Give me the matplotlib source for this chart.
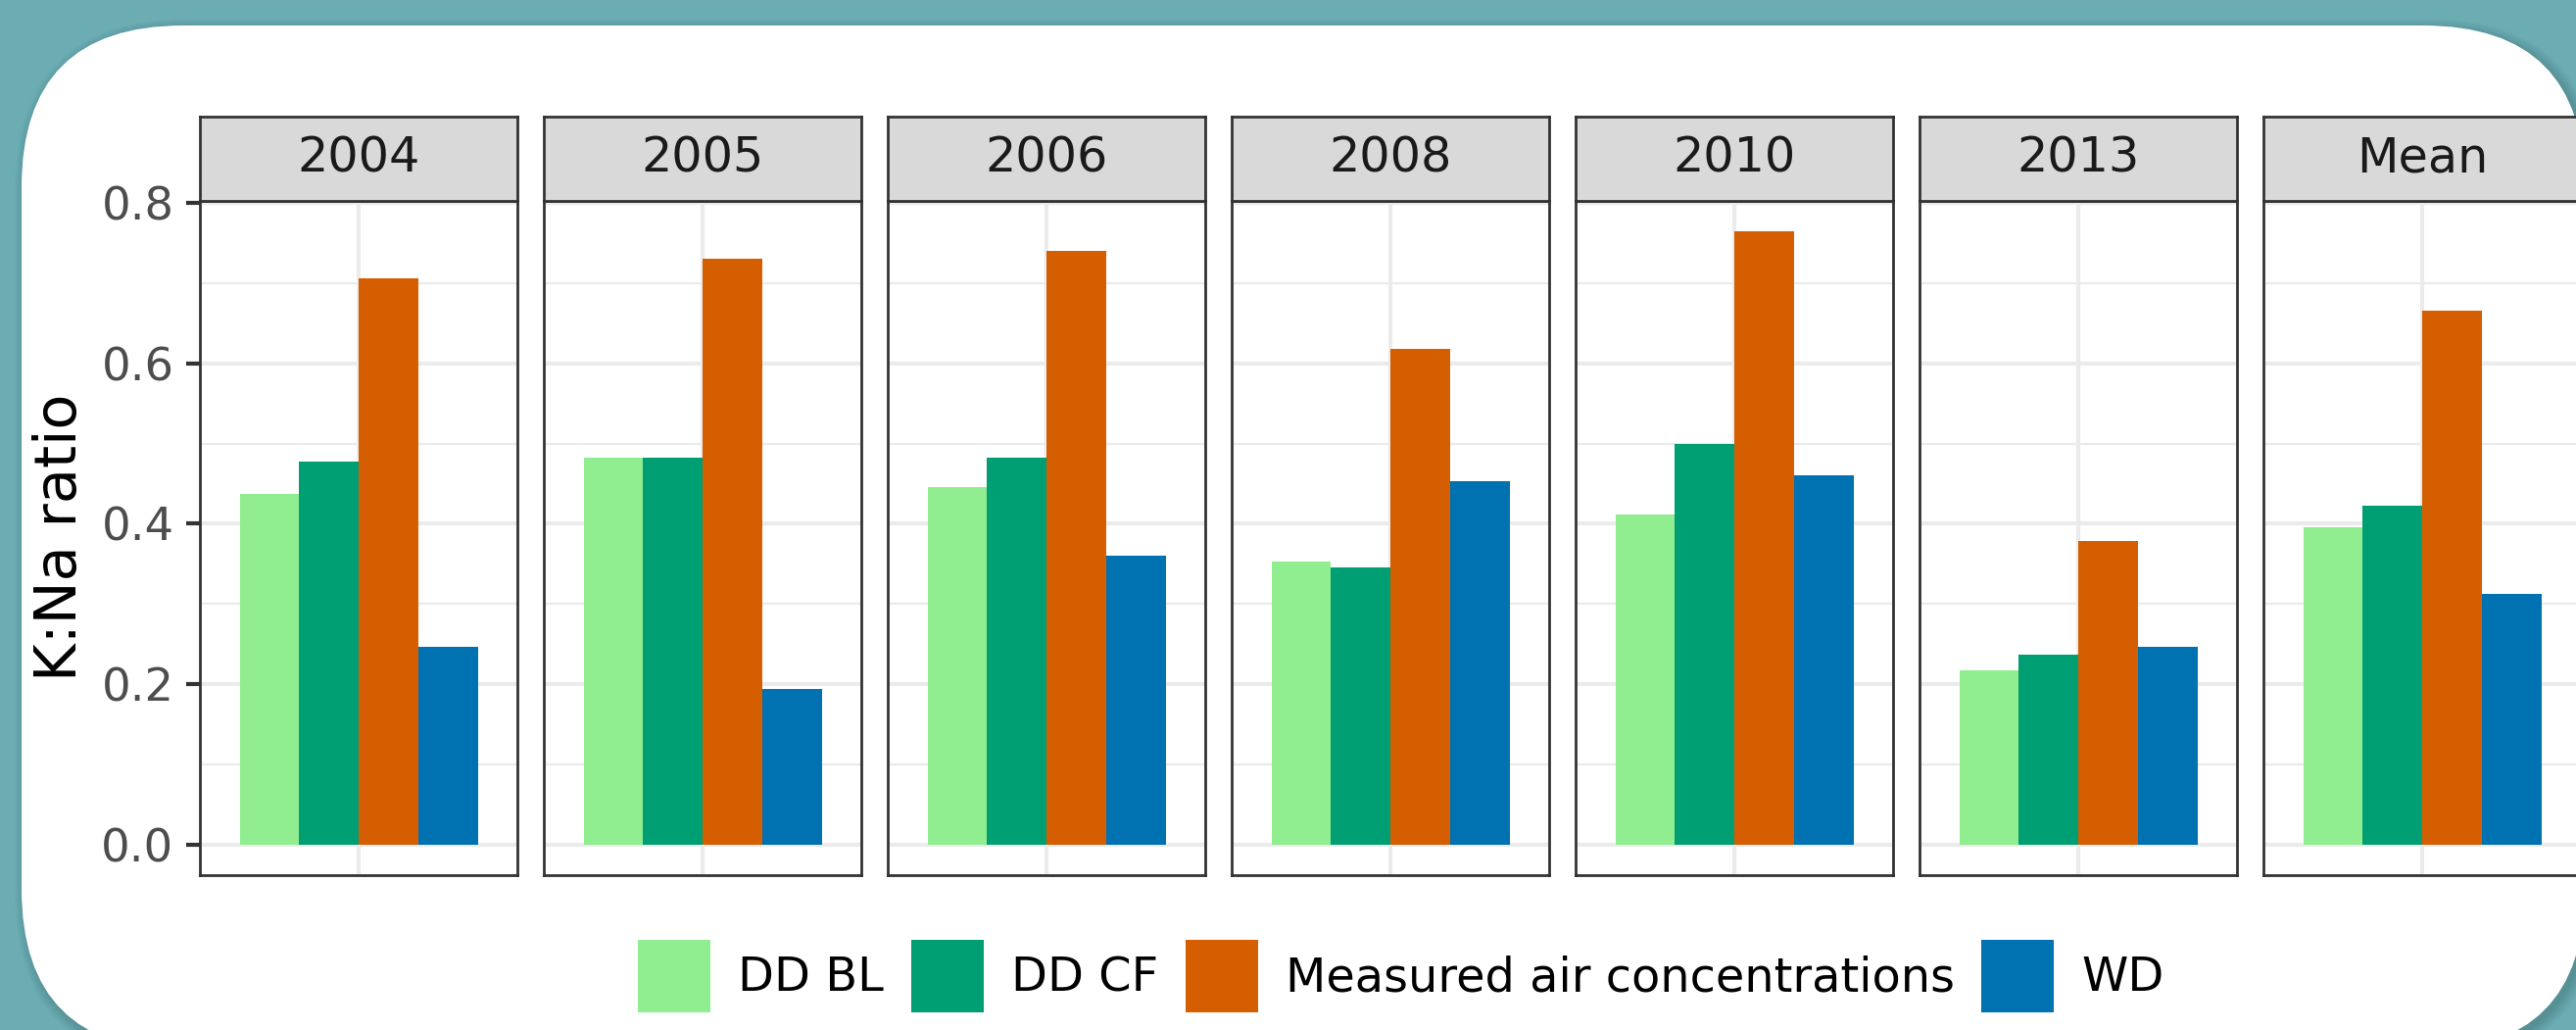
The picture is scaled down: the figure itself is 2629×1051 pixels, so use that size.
import numpy as np
import matplotlib
matplotlib.use("Agg")
import matplotlib.pyplot as plt
from matplotlib.patches import FancyBboxPatch, Patch

# K:Na ratio per year and source
years = ["2004", "2005", "2006", "2008", "2010", "2013", "Mean"]
series = ["DD BL", "DD CF", "Measured air concentrations", "WD"]
dd_bl = [0.437, 0.483, 0.446, 0.353, 0.412, 0.217, 0.396]
dd_cf = [0.478, 0.483, 0.483, 0.346, 0.499, 0.237, 0.423]
measured = [0.706, 0.730, 0.740, 0.618, 0.765, 0.379, 0.666]
wd = [0.246, 0.194, 0.360, 0.453, 0.460, 0.246, 0.313]
colors = ["#90EE90", "#009E73", "#D55E00", "#0072B2"]
yticks = [0.0, 0.2, 0.4, 0.6, 0.8]

values = [dd_bl, dd_cf, measured, wd]

W, H = 2629, 1051
fig = plt.figure(figsize=(W / 100, H / 100), dpi=100)
fig.patch.set_facecolor("#6BADB3")

# white rounded card with a soft shadow
for k in range(10):
    fig.patches.append(FancyBboxPatch(
        (0.22 + 0.04 - 0.012 * k, -0.21 - 0.04 - 0.012 * k),
        26.16 + 0.024 * k, 10.46 + 0.024 * k,
        boxstyle="round,pad=0,rounding_size=%.3f" % (1.65 + 0.012 * k),
        transform=fig.dpi_scale_trans, facecolor="#2F5C5E", edgecolor="none",
        alpha=0.035, zorder=-3))
fig.patches.append(FancyBboxPatch(
    (0.22, -0.21), 26.16, 10.46, boxstyle="round,pad=0,rounding_size=1.65",
    transform=fig.dpi_scale_trans, facecolor="white", edgecolor="none", zorder=-1))

ymax = max(max(v) for v in values) * 1.05
ymin = -max(max(v) for v in values) * 0.05
width = 0.225
offsets = (np.arange(4) - 1.5) * width

panel_top, panel_bot, strip_top = 204.5, 893, 119
for i, year in enumerate(years):
    left = 204 + 351 * i
    ax = fig.add_axes([left / W, (H - panel_bot) / H, 324 / W, (panel_bot - panel_top) / H])
    for j in range(4):
        ax.bar(1 + offsets[j], values[j][i], width=width, color=colors[j], zorder=2)
    ax.set_xlim(0.4, 1.6)
    ax.set_ylim(ymin, ymax)
    ax.set_xticks([1])
    ax.set_xticklabels([])
    ax.set_yticks(yticks)
    ax.set_yticks([0.1, 0.3, 0.5, 0.7], minor=True)
    ax.set_axisbelow(True)
    ax.grid(which="major", color="#EBEBEB", lw=3.0)
    ax.grid(which="minor", axis="y", color="#EBEBEB", lw=1.6)
    ax.tick_params(axis="x", length=0)
    ax.tick_params(axis="y", which="minor", length=0)
    if i == 0:
        ax.set_yticklabels(["%.1f" % t for t in yticks])
        ax.tick_params(axis="y", length=10, width=3.0, color="#333333",
                       labelsize=33.5, labelcolor="#4D4D4D", pad=9)
    else:
        ax.set_yticklabels([])
        ax.tick_params(axis="y", length=0)
    for s in ax.spines.values():
        s.set_color("#333333")
        s.set_linewidth(2.0)

    sax = fig.add_axes([left / W, (H - panel_top) / H, 324 / W, (panel_top - strip_top) / H])
    sax.set_facecolor("#D9D9D9")
    sax.set_xticks([])
    sax.set_yticks([])
    for s in sax.spines.values():
        s.set_color("#333333")
        s.set_linewidth(2.0)
    sax.text(0.5, 0.5, year, ha="center", va="center", fontsize=35.5,
             color="#1A1A1A", transform=sax.transAxes)

fig.text(62 / W, (H - 548) / H, "K:Na ratio", rotation=90, ha="center", va="center",
         fontsize=42.5, color="black")

handles = [Patch(facecolor=c, edgecolor="none") for c in colors]
fig.legend(handles, series, loc="center", bbox_to_anchor=(1430 / W, (H - 996) / H),
           ncol=4, frameon=False, fontsize=34.5, handlelength=1.545, handleheight=2.0,
           handletextpad=0.58, columnspacing=0.58, borderpad=0)

fig.savefig("out.png", dpi=100, facecolor=fig.get_facecolor())
